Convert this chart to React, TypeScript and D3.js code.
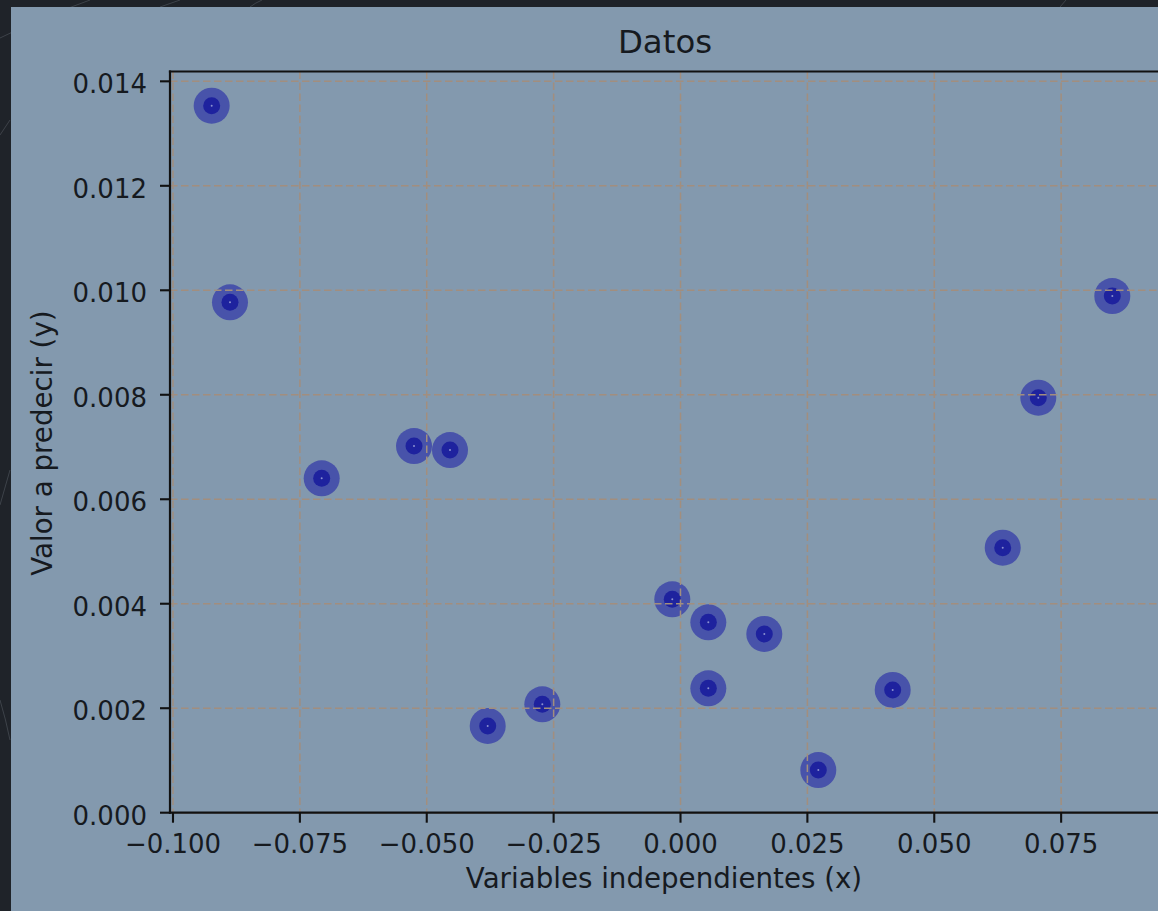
import React from "react";
import * as d3 from "d3";

// Observations: independent variable (x) and target value (y)
const xValues = [
  -0.09238, -0.08877, -0.0707, -0.05251, -0.04542, -0.03799, -0.02723, -0.00162,
  0.00548, 0.00548, 0.01651, 0.02715, 0.04181, 0.06349, 0.0705, 0.08508,
];
const yValues = [
  0.013533, 0.00977, 0.006401, 0.007019, 0.006942, 0.00166, 0.002075, 0.004085,
  0.003645, 0.002381, 0.003421, 0.000817, 0.002349, 0.005072, 0.007944, 0.00989,
];
const xTicks = [-0.1, -0.075, -0.05, -0.025, 0.0, 0.025, 0.05, 0.075];
const yTicks = [0.0, 0.002, 0.004, 0.006, 0.008, 0.01, 0.012, 0.014];

const TITLE = "Datos";
const X_LABEL = "Variables independientes (x)";
const Y_LABEL = "Valor a predecir (y)";

const W = 1158;
const H = 911;
const FONT = "'DejaVu Sans', sans-serif";

export default function App() {
  const left = 170;
  const right = 1160;
  const top = 71.5;
  const bottom = 812.7;

  const x = d3.scaleLinear().domain([-0.10059, 0.09448]).range([left, right]);
  const y = d3.scaleLinear().domain([0, 0.014188]).range([bottom, top]);

  const fmtX = (v: number) => d3.format(".3f")(v).replace("-", "\u2212");
  const fmtY = d3.format(".3f");

  const points = xValues.map((xv, i) => ({ cx: x(xv), cy: y(yValues[i]) }));

  const gridColor = "#a28e7e";
  const textColor = "#161a1f";

  return (
    <svg
      width={W}
      height={H}
      style={{ position: "absolute", left: 0, top: 0, display: "block" }}
      fontFamily={FONT}
    >
      {/* page backdrop */}
      <rect x={0} y={0} width={W} height={H} fill="#1f2329" />
      <g stroke="rgba(200,210,220,0.18)" fill="none" strokeWidth={1}>
        <path d="M0,38 Q40,18 90,0" />
        <path d="M0,135 L10,120" />
        <path d="M0,505 L10,470" />
        <path d="M0,700 Q6,720 10,740" />
        <path d="M160,7 L180,0" />
        <path d="M250,7 Q255,3 262,0" />
        <path d="M1060,7 L1066,0" />
      </g>

      {/* figure area */}
      <rect x={11} y={7} width={W - 11} height={H - 7} fill="#8399ae" />

      {/* scatter markers */}
      <g>
        {points.map((p, i) => (
          <g key={i}>
            <circle cx={p.cx} cy={p.cy} r={18} fill="#4853aa" />
            <circle cx={p.cx} cy={p.cy} r={8.5} fill="#1e229e" />
            <circle cx={p.cx} cy={p.cy} r={1} fill="#8a90d0" />
          </g>
        ))}
      </g>

      {/* grid */}
      <g stroke={gridColor} strokeWidth={1.5} strokeDasharray="7.5,3.5">
        {xTicks.map((t) => (
          <line key={"gx" + t} x1={x(t)} x2={x(t)} y1={top} y2={bottom} />
        ))}
        {yTicks.map((t) => (
          <line key={"gy" + t} x1={left} x2={right} y1={y(t)} y2={y(t)} />
        ))}
      </g>

      {/* spines */}
      <g stroke="#111" strokeWidth={2.2} fill="none">
        <line x1={left} x2={left} y1={top - 1.1} y2={bottom + 1.1} />
        <line x1={left - 1.1} x2={right} y1={bottom} y2={bottom} />
        <line x1={left - 1.1} x2={right} y1={top} y2={top} />
      </g>

      {/* x axis ticks */}
      <g>
        {xTicks.map((t) => (
          <g key={"tx" + t}>
            <line x1={x(t)} x2={x(t)} y1={bottom} y2={bottom + 10} stroke="#111" strokeWidth={2.1} />
            <text
              x={x(t)}
              y={853}
              textAnchor="middle"
              fontSize={26}
              fill={textColor}
            >
              {fmtX(t)}
            </text>
          </g>
        ))}
      </g>

      {/* y axis ticks */}
      <g>
        {yTicks.map((t) => (
          <g key={"ty" + t}>
            <line x1={left - 10} x2={left} y1={y(t)} y2={y(t)} stroke="#111" strokeWidth={2.1} />
            <text
              x={147}
              y={y(t) + 12}
              textAnchor="end"
              fontSize={26}
              fill={textColor}
            >
              {fmtY(t)}
            </text>
          </g>
        ))}
      </g>

      {/* labels */}
      <text x={664} y={888} textAnchor="middle" fontSize={27.7} fill={textColor}>
        {X_LABEL}
      </text>
      <text
        transform={`translate(52,${(top + bottom) / 2 + 1}) rotate(-90)`}
        textAnchor="middle"
        fontSize={27.7}
        fill={textColor}
      >
        {Y_LABEL}
      </text>
      <text x={665} y={53} textAnchor="middle" fontSize={32.4} fill={textColor}>
        {TITLE}
      </text>
    </svg>
  );
}
